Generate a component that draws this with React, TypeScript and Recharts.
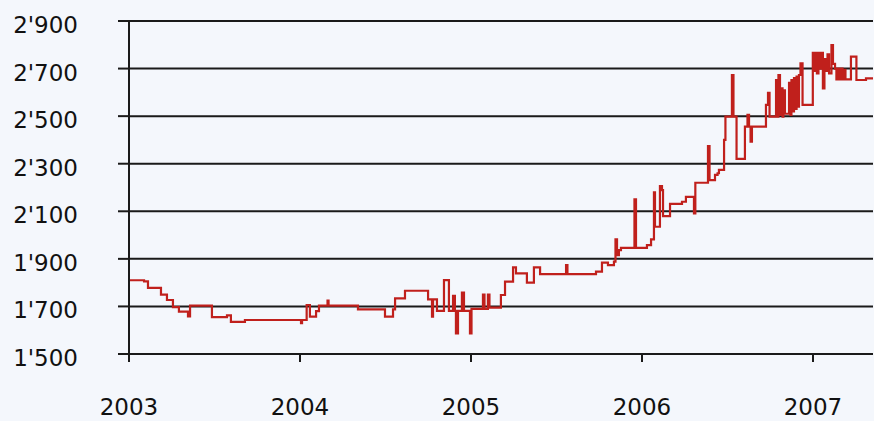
import { LineChart, Line, XAxis, YAxis, CartesianGrid } from 'recharts';

// decimal year of each price change (step after)
const dates = [
  2003.0, 2003.088, 2003.111, 2003.187, 2003.222, 2003.257, 2003.292, 2003.345, 2003.357, 2003.485,
  2003.573, 2003.596, 2003.678, 2004.006, 2004.012, 2004.039, 2004.058, 2004.094, 2004.111, 2004.161,
  2004.167, 2004.339, 2004.497, 2004.544, 2004.556, 2004.614, 2004.749, 2004.772, 2004.778, 2004.801,
  2004.842, 2004.871, 2004.895, 2004.906, 2004.912, 2004.924, 2004.947, 2004.959, 2004.994, 2005.003,
  2005.07, 2005.079, 2005.099, 2005.108, 2005.175, 2005.199, 2005.246, 2005.263, 2005.327, 2005.368,
  2005.404, 2005.556, 2005.564, 2005.731, 2005.766, 2005.801, 2005.836, 2005.845, 2005.854, 2005.865,
  2005.877, 2005.956, 2005.965, 2006.029, 2006.053, 2006.07, 2006.076, 2006.105, 2006.117, 2006.123,
  2006.164, 2006.234, 2006.257, 2006.304, 2006.312, 2006.386, 2006.395, 2006.427, 2006.442, 2006.45,
  2006.48, 2006.488, 2006.526, 2006.535, 2006.553, 2006.602, 2006.617, 2006.626, 2006.635, 2006.643,
  2006.725, 2006.737, 2006.746, 2006.784, 2006.792, 2006.798, 2006.807, 2006.813, 2006.822, 2006.827,
  2006.836, 2006.86, 2006.868, 2006.874, 2006.883, 2006.889, 2006.898, 2006.904, 2006.912, 2006.918,
  2006.927, 2006.939, 2006.999, 2007.006, 2007.015, 2007.023, 2007.032, 2007.041, 2007.05, 2007.058,
  2007.067, 2007.076, 2007.085, 2007.094, 2007.108, 2007.117, 2007.129, 2007.137, 2007.146, 2007.155,
  2007.164, 2007.173, 2007.181, 2007.19, 2007.222, 2007.254, 2007.31, 2007.351,
];

const prices = [
  1810, 1805, 1778, 1750, 1727, 1697, 1678, 1658, 1703, 1655,
  1662, 1635, 1643, 1630, 1643, 1706, 1657, 1680, 1703, 1724,
  1703, 1688, 1657, 1688, 1734, 1766, 1730, 1657, 1730, 1681,
  1811, 1681, 1745, 1681, 1587, 1681, 1758, 1681, 1587, 1690,
  1750, 1690, 1750, 1695, 1748, 1804, 1864, 1839, 1800, 1864,
  1836, 1874, 1836, 1846, 1884, 1874, 1888, 1982, 1916, 1937,
  1946, 2150, 1946, 1958, 1982, 2180, 2035, 2206, 2189, 2080,
  2131, 2140, 2161, 2091, 2220, 2374, 2231, 2253, 2260, 2274,
  2400, 2498, 2673, 2498, 2320, 2456, 2505, 2456, 2393, 2456,
  2547, 2598, 2498, 2652, 2498, 2673, 2505, 2617, 2498, 2608,
  2510, 2640, 2505, 2652, 2520, 2660, 2530, 2666, 2540, 2673,
  2722, 2547, 2766, 2690, 2766, 2680, 2766, 2700, 2766, 2617,
  2740, 2690, 2760, 2680, 2799, 2720, 2700, 2655, 2700, 2655,
  2700, 2655, 2695, 2655, 2750, 2652, 2659, 2659,
];

const yearTicks = [2003, 2004, 2005, 2006, 2007];
const priceTicks = [1500, 1700, 1900, 2100, 2300, 2500, 2700, 2900];

const data = dates.map((t, i) => ({ t, v: prices[i] }));

const FONT = '"DejaVu Sans", sans-serif';

const fmtPrice = (v: number) => `${Math.floor(v / 1000)}'${String(v % 1000).padStart(3, '0')}`;

function PriceTick({ x, y, payload }: any) {
  return (
    <text x={x} y={y} dy={4} textAnchor="end" dominantBaseline="central" fontFamily={FONT} fontSize={23} fill="#111">
      {fmtPrice(payload.value)}
    </text>
  );
}

function YearTick({ x, y, payload }: any) {
  return (
    <text x={x} y={y} dy={17} textAnchor="middle" fontFamily={FONT} fontSize={23} fill="#111">
      {payload.value}
    </text>
  );
}

export default function App() {
  return (
    <div style={{ position: 'absolute', left: 0, top: 0, width: 874, height: 421, background: '#f4f7fc' }}>
      <LineChart width={874} height={421} data={data} margin={{ top: 21, right: 1, bottom: 0, left: 0 }}>
        <CartesianGrid horizontal vertical={false} stroke="#1a1a1a" strokeWidth={2} />
        <XAxis
          dataKey="t"
          type="number"
          domain={[2003, 2007.351]}
          ticks={yearTicks}
          allowDataOverflow
          height={67}
          tickSize={8}
          tickMargin={36}
          axisLine={{ stroke: '#1a1a1a', strokeWidth: 2 }}
          tickLine={{ stroke: '#1a1a1a', strokeWidth: 2 }}
          tick={<YearTick />}
        />
        <YAxis
          type="number"
          domain={[1500, 2900]}
          ticks={priceTicks}
          width={129}
          tickSize={11}
          tickMargin={40}
          axisLine={{ stroke: '#1a1a1a', strokeWidth: 2 }}
          tickLine={{ stroke: '#1a1a1a', strokeWidth: 2 }}
          tick={<PriceTick />}
        />
        <Line
          type="stepAfter"
          dataKey="v"
          stroke="#c0201c"
          strokeWidth={2.2}
          dot={false}
          isAnimationActive={false}
        />
      </LineChart>
    </div>
  );
}
